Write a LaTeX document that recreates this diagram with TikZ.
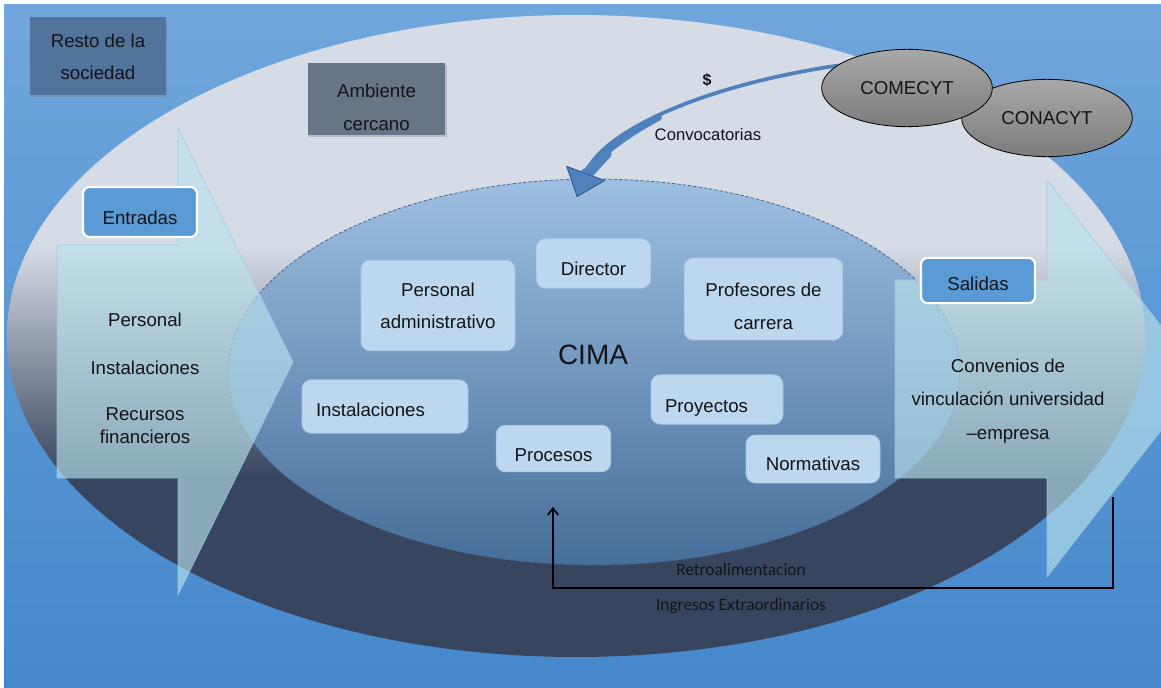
\documentclass[tikz,border=0pt]{standalone}
\usepackage{fontspec}
\setmainfont{Liberation Sans}
\newfontfamily\retrofont{Carlito}
\usepackage{xcolor}
\usepackage{tikz}
\usetikzlibrary{arrows.meta,shapes.geometric,shadows}

\definecolor{fondoarriba}{RGB}{112,166,220}
\definecolor{fondoabajo}{RGB}{68,136,204}
\definecolor{ambclaro}{RGB}{214,220,230}
\definecolor{ambosc}{RGB}{56,69,94}
\definecolor{nucleoarriba}{RGB}{158,191,226}
\definecolor{nucleoabajo}{RGB}{70,110,154}
\definecolor{nucleoborde}{RGB}{70,100,140}
\definecolor{flechaclara}{RGB}{185,225,235}
\definecolor{flechaborde}{RGB}{150,200,228}
\definecolor{cajaazul}{RGB}{91,155,213}
\definecolor{cajaclara}{RGB}{189,215,238}
\definecolor{bordeclaro}{RGB}{165,198,230}
\definecolor{restocol}{RGB}{82,115,155}
\definecolor{ambientecol}{RGB}{103,117,135}
\definecolor{convoca}{RGB}{79,129,189}
\definecolor{convborde}{RGB}{55,95,150}
\definecolor{grisarriba}{RGB}{168,168,168}
\definecolor{grisabajo}{RGB}{124,124,124}
\definecolor{tinta}{RGB}{20,20,24}

\pgfdeclareverticalshading{ambito}{100bp}{color(0bp)=(ambosc); color(39bp)=(ambosc); color(57bp)=(ambclaro); color(100bp)=(ambclaro)}

\begin{document}
\begin{tikzpicture}[x=0.75pt, y=-0.75pt,
    texto/.style={text=tinta, font=\fontsize{14}{24}\selectfont, align=center},
    bajar/.style={execute at begin node={\rule{0pt}{#1}}},
    oscura/.style={texto, minimum width=102pt, minimum height=58pt, drop shadow={opacity=0.35, shadow xshift=1pt, shadow yshift=-1.5pt}},
    caja/.style={texto, rounded corners=7pt, fill=cajaclara, draw=bordeclaro, line width=0.6pt},
    cajaazul/.style={texto, rounded corners=5pt, fill=cajaazul, draw=white, line width=1.6pt, minimum width=85.5pt},
    elipgris/.style={ellipse, texto, draw=black, line width=0.6pt, top color=grisarriba, bottom color=grisabajo, minimum width=128pt, minimum height=58pt, inner sep=0pt},
    flechagrande/.style={fill=flechaclara, fill opacity=0.65, draw=flechaborde, draw opacity=0.8, line width=0.5pt},
    convflecha/.style={draw=convoca, line width=2.8pt, -{Triangle[width=31pt, length=19pt, line width=0.6pt, color=convborde, fill=convoca]}},
    retroflecha/.style={draw=black, line width=1.5pt, -{Straight Barb[length=5pt, width=8pt, line width=1.2pt]}},
    etiq/.style={text=tinta, font=\retrofont\fontsize{13}{15}\selectfont}
]
    \useasboundingbox (0,0) rectangle (1161,688);
    \clip (0,0) rectangle (1161,688);
    \fill[top color=fondoarriba, bottom color=fondoabajo] (4,5) rectangle (1161,688);

    \node[ellipse, minimum width=853.5pt, minimum height=481.5pt, inner sep=0pt, shade, shading=ambito] (ambito) at (576,336) {};

    \node[oscura, fill=restocol] (resto) at (98,56) {\rule{0pt}{11.7pt}Resto de la\\sociedad};
    \node[oscura, fill=ambientecol, minimum width=103pt, minimum height=54pt, font=\fontsize{14}{25}\selectfont] (ambiente) at (376.5,99) {\rule{0pt}{22.2pt}Ambiente\\cercano};

    \node[ellipse, minimum width=549pt, minimum height=289.5pt, inner sep=0pt, top color=nucleoarriba, bottom color=nucleoabajo, draw=nucleoborde, line width=0.6pt, dash pattern=on 2.5pt off 1.5pt] (nucleo) at (594,372) {};

    \coordinate (convcola) at (1047,118);
    \coordinate (convmedio) at (658.6,117.5);
    \coordinate (convcuarto) at (606.4,153.8);
    \coordinate (convtip) at (577,197);
    \draw[convflecha] (convcola) .. controls (960,60) and (880,58) .. (822,68) .. controls (690,90) and (600,135) .. (convtip);
    \draw[convflecha, line width=5pt, line cap=round] (convmedio) .. controls (616.75,139.25) and (588.5,166) .. (convtip);
    \draw[convflecha, line width=8pt, line cap=round] (convcuarto) .. controls (592.7,167) and (582.75,181.5) .. (convtip);

    \node[elipgris] (conacyt) at (1047,118) {CONACYT};
    \node[elipgris] (comecyt) at (907,88) {COMECYT};
    \node[text=tinta, font=\bfseries\fontsize{12}{14}\selectfont] (pesos) at (707,80) {\$};
    \node[text=tinta, font=\fontsize{12.5}{15}\selectfont] (convocatorias) at (708,135) {Convocatorias};

    \path[flechagrande] (57,245) -- (178,245) -- (178,128) -- (293,362) -- (178,595) -- (178,478) -- (57,478) -- cycle;
    \path[flechagrande] (895,280) -- (1047,280) -- (1047,180) -- (1202,378) -- (1047,577) -- (1047,478) -- (895,478) -- cycle;

    \node[cajaazul, minimum height=37.5pt, bajar=19.2pt] (entradas) at (140,212) {Entradas};
    \node[cajaazul, minimum height=34pt, bajar=14.7pt] (salidas) at (978,280.5) {Salidas};

    \node[texto, font=\fontsize{14}{17}\selectfont] (insumos) at (145,378) {Personal\\[19pt]Instalaciones\\[18pt]Recursos\\financieros};
    \node[texto, font=\fontsize{14}{25}\selectfont] (convenios) at (1008,401) {Convenios de\\vinculación universidad\\--empresa};

    \node[text=tinta, font=\fontsize{21}{24}\selectfont] (cima) at (593,355) {CIMA};

    \node[caja, minimum width=86pt, minimum height=37pt, bajar=17.7pt] (director) at (593.5,263.5) {Director};
    \node[caja, minimum width=115.5pt, minimum height=68pt] (admin) at (438,305.5) {Personal\\administrativo};
    \node[caja, minimum width=119pt, minimum height=61.5pt, font=\fontsize{14}{25}\selectfont] (profesores) at (763.5,299) {\rule{0pt}{20.7pt}Profesores de\\carrera};
    \node[caja, align=left, text width=103.5pt, inner xsep=10.5pt, minimum height=40pt, bajar=14.7pt] (instalaciones) at (385,406.5) {Instalaciones};
    \node[caja, align=left, text width=78pt, inner xsep=10.5pt, minimum height=37pt, bajar=22.2pt] (proyectos) at (717,399.5) {Proyectos};
    \node[caja, minimum width=86pt, minimum height=35pt, bajar=19.2pt] (procesos) at (553.5,448.5) {Procesos};
    \node[caja, minimum width=100.5pt, minimum height=36pt, bajar=17.7pt] (normativas) at (813,459) {Normativas};

    \coordinate (retro) at (1113,497);
    \coordinate (codo) at (553,588);
    \coordinate (retrofin) at (553,507);
    \draw[retroflecha] (retro) |- (codo) -- (retrofin);
    \node[etiq] (retroetq) at (741,570) {Retroalimentacion};
    \node[etiq] (ingresos) at (741,606) {Ingresos Extraordinarios};
\end{tikzpicture}
\end{document}
